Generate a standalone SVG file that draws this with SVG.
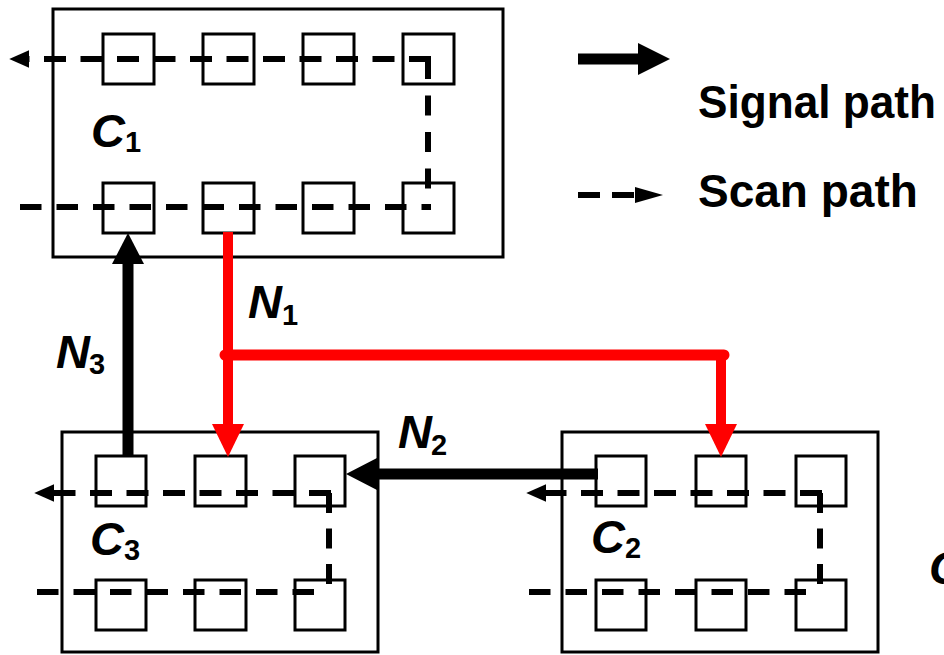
<svg xmlns="http://www.w3.org/2000/svg" width="944" height="655" viewBox="0 0 944 655">
<style>
.box{fill:none;stroke:#000;stroke-width:3}
.sq{fill:none;stroke:#000;stroke-width:3}
.scan{fill:none;stroke:#000;stroke-width:6;stroke-dasharray:21.5 15}
.lbl{font-family:"Liberation Sans",Arial,sans-serif;font-weight:bold;font-style:italic;font-size:47px;fill:#000}
.sub{font-family:"Liberation Sans",Arial,sans-serif;font-weight:bold;font-size:29px;fill:#000}
.leg{font-family:"Liberation Sans",Arial,sans-serif;font-weight:bold;font-size:46px;fill:#000}
.sig{fill:none;stroke:#000;stroke-width:11}
.red{fill:none;stroke:#ff0000;stroke-width:10}
</style>
<defs>
<marker id="scanHead" markerUnits="userSpaceOnUse" markerWidth="20" markerHeight="20" viewBox="0 0 16 14" refX="1" refY="7" orient="auto">
<path d="M16,7 L0,0 L0,14 Z" fill="#000"/>
</marker>
</defs>
<rect width="944" height="655" fill="#fff"/>

<g id="C1">
<rect class="box" x="53" y="9" width="450" height="248"/>
<rect class="sq" x="103" y="34" width="51" height="50"/>
<rect class="sq" x="203" y="34" width="51" height="50"/>
<rect class="sq" x="303" y="34" width="51" height="50"/>
<rect class="sq" x="403" y="34" width="51" height="50"/>
<rect class="sq" x="103" y="183" width="51" height="50"/>
<rect class="sq" x="203" y="183" width="51" height="50"/>
<rect class="sq" x="303" y="183" width="51" height="50"/>
<rect class="sq" x="403" y="183" width="51" height="50"/>
<path class="scan" d="M20,207 H431"/>
<path class="scan" style="stroke-dasharray:20 16.5" d="M428,59 V208"/>
<path class="scan" style="stroke-dasharray:22 14.5" d="M431,59 H28" marker-end="url(#scanHead)"/>
<text class="lbl" x="91" y="147">C</text><text class="sub" x="125" y="152">1</text>
</g>

<g id="C3">
<rect class="box" x="62" y="432" width="316" height="220"/>
<rect class="sq" x="96" y="456" width="50" height="50"/>
<rect class="sq" x="195" y="456" width="51" height="50"/>
<rect class="sq" x="295" y="456" width="50" height="50"/>
<rect class="sq" x="96" y="580" width="50" height="50"/>
<rect class="sq" x="195" y="580" width="51" height="50"/>
<rect class="sq" x="295" y="580" width="50" height="50"/>
<path class="scan" d="M37,592 H314"/>
<path class="scan" style="stroke-dasharray:20 15.5" d="M329,493 V586"/>
<path class="scan" style="stroke-dasharray:22 14.5" d="M331,493 H53" marker-end="url(#scanHead)"/>
<text class="lbl" x="90" y="555">C</text><text class="sub" x="124" y="560">3</text>
</g>

<g id="C2">
<rect class="box" x="562" y="432" width="316" height="220"/>
<rect class="sq" x="596" y="456" width="50" height="50"/>
<rect class="sq" x="696" y="456" width="50" height="50"/>
<rect class="sq" x="796" y="456" width="50" height="50"/>
<rect class="sq" x="596" y="580" width="50" height="50"/>
<rect class="sq" x="696" y="580" width="50" height="50"/>
<rect class="sq" x="796" y="580" width="50" height="50"/>
<path class="scan" d="M529,592 H806"/>
<path class="scan" style="stroke-dasharray:20 15.5" d="M820,493 V586"/>
<path class="scan" style="stroke-dasharray:22 14.5" d="M822,493 H545" marker-end="url(#scanHead)"/>
<text class="lbl" x="591" y="553">C</text><text class="sub" x="625" y="558">2</text>
</g>

<g id="connectors">
<!-- N3 -->
<path class="sig" d="M128,456 V262"/>
<path d="M128,233 L112,264 L144,264 Z" fill="#000"/>
<!-- N2 -->
<path class="sig" d="M598,474 H374"/>
<path d="M346,474 L377,458 L377,490 Z" fill="#000"/>
<!-- N1 -->
<path class="red" d="M228,232 V428"/>
<path class="red" d="M721,355 V428"/>
<path fill="none" stroke="#ff0000" stroke-width="11" stroke-linecap="round" d="M225,355 H724"/>
<path d="M228,457 L212,424 L244,424 Z" fill="#ff0000"/>
<path d="M721,457 L705,424 L737,424 Z" fill="#ff0000"/>
</g>

<g id="labels">
<text class="lbl" x="248" y="318">N</text><text class="sub" x="282" y="325">1</text>
<text class="lbl" x="398" y="448">N</text><text class="sub" x="431" y="455">2</text>
<text class="lbl" x="56" y="368">N</text><text class="sub" x="89" y="374">3</text>
<text class="lbl" x="929" y="584">C</text>
</g>

<g id="legend">
<path d="M578,59 H642" stroke="#000" stroke-width="11" fill="none"/>
<path d="M670,59 L638,43 L638,75 Z" fill="#000"/>
<text class="leg" x="698" y="118" textLength="238" lengthAdjust="spacingAndGlyphs">Signal path</text>
<path d="M578,195 H636" stroke="#000" stroke-width="6" fill="none" stroke-dasharray="22 12"/>
<path d="M663,195 L635,187 L635,203 Z" fill="#000"/>
<text class="leg" x="698" y="207">Scan path</text>
</g>
</svg>
